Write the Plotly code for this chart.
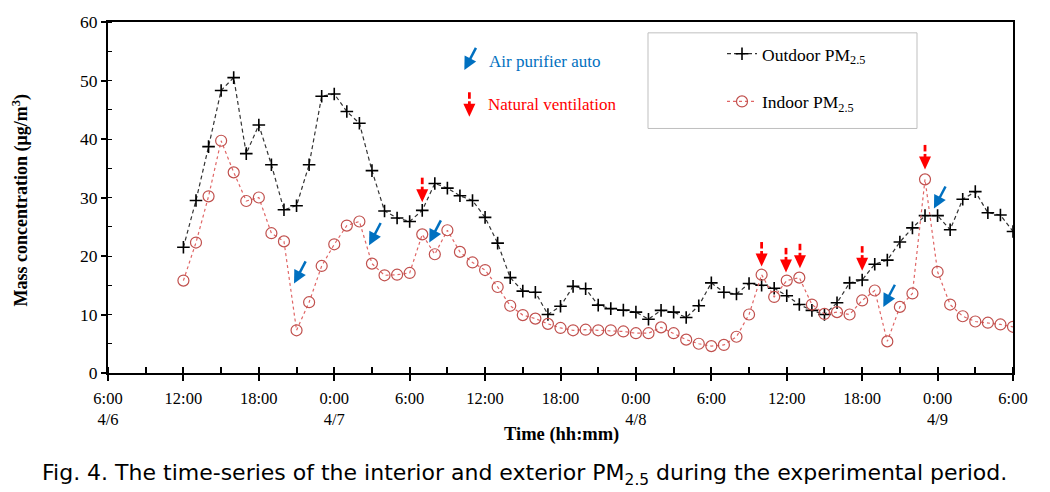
import math
import plotly.graph_objects as go

# ---------------- data ----------------
# hours elapsed since 6:00 on 4/6 (one sample every hour, 12:00 4/6 .. 6:00 4/9)
hours = list(range(6, 73))
outdoor = [21.5, 29.5, 38.7, 48.3, 50.5, 37.5, 42.4, 35.6, 27.9, 28.6,
           35.6, 47.3, 47.7, 44.7, 42.7, 34.6, 27.7, 26.5, 25.9, 27.8,
           32.4, 31.6, 30.3, 29.5, 26.6, 22.2, 16.3, 14.0, 13.8, 10.0,
           11.4, 14.8, 14.4, 11.6, 11.0, 10.75, 10.4, 9.2, 10.7, 10.4,
           9.5, 11.5, 15.4, 13.8, 13.5, 15.3, 15.0, 14.5, 13.2, 11.7,
           10.7, 10.0, 12.0, 15.4, 15.9, 18.6, 19.3, 22.4, 24.8, 26.9,
           26.9, 24.5, 29.7, 31.0, 27.4, 27.0, 24.2]
indoor = [15.8, 22.3, 30.2, 39.7, 34.3, 29.4, 30.0, 23.9, 22.5, 7.3,
          12.1, 18.3, 22.0, 25.2, 25.9, 18.7, 16.7, 16.8, 17.1, 23.7,
          20.3, 24.4, 20.7, 18.9, 17.6, 14.7, 11.5, 9.9, 9.3, 8.4,
          7.7, 7.3, 7.4, 7.3, 7.3, 7.1, 6.8, 6.8, 7.8, 6.8,
          5.7, 5.0, 4.6, 4.8, 6.2, 10.0, 16.8, 13.0, 15.8, 16.3,
          11.7, 10.1, 10.4, 10.0, 12.4, 14.1, 5.4, 11.3, 13.6, 33.1,
          17.3, 11.7, 9.7, 8.8, 8.6, 8.3, 7.9]

tick_hours = [0, 6, 12, 18, 24, 30, 36, 42, 48, 54, 60, 66, 72]
tick_labels = ["6:00<br>4/6", "12:00", "18:00", "0:00<br>4/7", "6:00", "12:00",
               "18:00", "0:00<br>4/8", "6:00", "12:00", "18:00", "0:00<br>4/9", "6:00"]

# event markers (arrow tip: hour, concentration)
purifier_auto = [(14.8, 15.3), (20.77, 21.85), (25.56, 22.3), (61.68, 11.3), (65.71, 28.1)]
natural_vent = [(25.0, 29.2), (52.0, 18.2), (53.94, 17.2), (55.05, 17.9), (60.0, 17.5), (65.0, 34.8)]
legend_purifier = (28.35, 51.8)
legend_vent = (28.75, 43.8)

# ---------------- layout geometry ----------------
W, H = 1050, 492
L, R, T, B = 108, 37, 17, 119
pw, ph = W - L - R, H - T - B


def px_x(px):
    return (px - L) / pw


def px_y(py):
    return (H - B - py) / ph


BLUE = "#0070C0"
RED = "#FF0000"
SERIF = "Liberation Serif"

fig = go.Figure()
fig.add_trace(go.Scatter(
    x=hours, y=outdoor, mode="lines+markers", name="Outdoor PM<sub>2.5</sub>",
    line=dict(color="#333333", width=1.2, dash="4px,3px"),
    marker=dict(symbol="cross-thin", size=9, color="black",
                line=dict(color="black", width=1.6)),
    legendgroup="a"))
fig.add_trace(go.Scatter(
    x=hours, y=indoor, mode="lines+markers", name="Indoor PM<sub>2.5</sub>",
    line=dict(color="#E06666", width=1.2, dash="dot"),
    marker=dict(symbol="circle-open", size=11, color="#C0504D",
                line=dict(color="#C0504D", width=1.2)),
    legendgroup="b"))

shapes = []


def blue_arrow(xh, yv):
    ang = math.atan2(21, 11)  # direction from tip to tail (up-right)
    ux, uy = math.cos(ang), math.sin(ang)
    px_, py_ = -uy, ux
    hl, hw, tl = 13, 6.5, 25
    bx, by = ux * hl, uy * hl
    c1 = (bx + px_ * hw, by + py_ * hw)
    c2 = (bx - px_ * hw, by - py_ * hw)
    head = f"M0,0 L{c1[0]:.2f},{c1[1]:.2f} L{c2[0]:.2f},{c2[1]:.2f} Z"
    shapes.append(dict(type="path", xref="x", yref="y", xsizemode="pixel", ysizemode="pixel",
                       xanchor=xh, yanchor=yv, path=head, fillcolor=BLUE,
                       line=dict(width=0)))
    shapes.append(dict(type="line", xref="x", yref="y", xsizemode="pixel", ysizemode="pixel",
                       xanchor=xh, yanchor=yv, x0=bx * 0.9, y0=by * 0.9,
                       x1=ux * tl, y1=uy * tl, line=dict(color=BLUE, width=2.5)))


def red_arrow(xh, yv):
    shapes.append(dict(type="path", xref="x", yref="y", xsizemode="pixel", ysizemode="pixel",
                       xanchor=xh, yanchor=yv, path="M0,0 L-6,13 L6,13 Z",
                       fillcolor=RED, line=dict(width=0)))
    shapes.append(dict(type="line", xref="x", yref="y", xsizemode="pixel", ysizemode="pixel",
                       xanchor=xh, yanchor=yv, x0=0, y0=12, x1=0, y1=15.5,
                       line=dict(color=RED, width=2.8)))
    shapes.append(dict(type="line", xref="x", yref="y", xsizemode="pixel", ysizemode="pixel",
                       xanchor=xh, yanchor=yv, x0=0, y0=18, x1=0, y1=24.5,
                       line=dict(color=RED, width=2.8)))


for xh, yv in purifier_auto:
    blue_arrow(xh, yv)
for xh, yv in natural_vent:
    red_arrow(xh, yv)
blue_arrow(*legend_purifier)
red_arrow(*legend_vent)

# legend box
shapes.append(dict(type="rect", xref="paper", yref="paper",
                   x0=px_x(648), x1=px_x(917), y0=px_y(125), y1=px_y(28),
                   line=dict(color="#BFBFBF", width=1), fillcolor="rgba(0,0,0,0)"))

annotations = [
    dict(text="Air purifier auto", x=px_x(487), y=px_y(57), xref="paper", yref="paper",
         xanchor="left", yanchor="middle", showarrow=False,
         font=dict(family=SERIF, size=17, color=BLUE)),
    dict(text="Natural ventilation", x=px_x(486), y=px_y(101), xref="paper", yref="paper",
         xanchor="left", yanchor="middle", showarrow=False,
         font=dict(family=SERIF, size=17, color=RED)),
    dict(text="<b>Time (hh:mm)</b>", x=px_x(561), y=px_y(435), xref="paper", yref="paper",
         xanchor="center", yanchor="middle", showarrow=False,
         font=dict(family=SERIF, size=18.5, color="black")),
    dict(text="<b>Mass concentration (μg/m<sup>3</sup>)</b>", x=px_x(21), y=px_y(198),
         xref="paper", yref="paper", xanchor="center", yanchor="middle", showarrow=False,
         textangle=-90, font=dict(family=SERIF, size=18, color="black")),
    dict(text="Fig. 4. The time-series of the interior and exterior PM<sub>2.5</sub> during the experimental period.",
         x=px_x(524), y=px_y(476), xref="paper", yref="paper",
         xanchor="center", yanchor="middle", showarrow=False,
         font=dict(family="DejaVu Sans", size=22, color="black")),
]

fig.update_layout(
    width=W, height=H, margin=dict(l=L, r=R, t=T, b=B),
    paper_bgcolor="white", plot_bgcolor="white",
    font=dict(family=SERIF, size=17, color="black"),
    shapes=shapes, annotations=annotations,
    showlegend=True,
    legend=dict(x=px_x(722), y=px_y(31), xanchor="left", yanchor="top",
                bgcolor="rgba(0,0,0,0)", borderwidth=0, tracegroupgap=22,
                font=dict(family=SERIF, size=17.5, color="black")),
    xaxis=dict(range=[0, 72], tickmode="array", tickvals=tick_hours, ticktext=tick_labels,
               showgrid=False, zeroline=False, showline=True, linecolor="black", linewidth=2,
               mirror=True, ticks="outside", ticklen=6, tickwidth=1.5, tickcolor="black",
               ticklabelstandoff=3,
               minor=dict(dtick=3, tick0=0, ticks="inside", ticklen=6, tickwidth=1.5,
                          tickcolor="black", showgrid=False),
               tickfont=dict(family=SERIF, size=16.5)),
    yaxis=dict(range=[0, 60], dtick=10, showgrid=False, zeroline=False, showline=True,
               linecolor="black", linewidth=2, mirror=True, ticks="outside", ticklen=5,
               tickwidth=1.5, tickcolor="black",
               minor=dict(dtick=5, ticks="inside", ticklen=4, tickwidth=1.2,
                          tickcolor="black", showgrid=False),
               tickfont=dict(family=SERIF, size=17.5)),
)

fig.write_html("out.html", post_script="document.body.style.margin='0';",
               config={"displayModeBar": False})
